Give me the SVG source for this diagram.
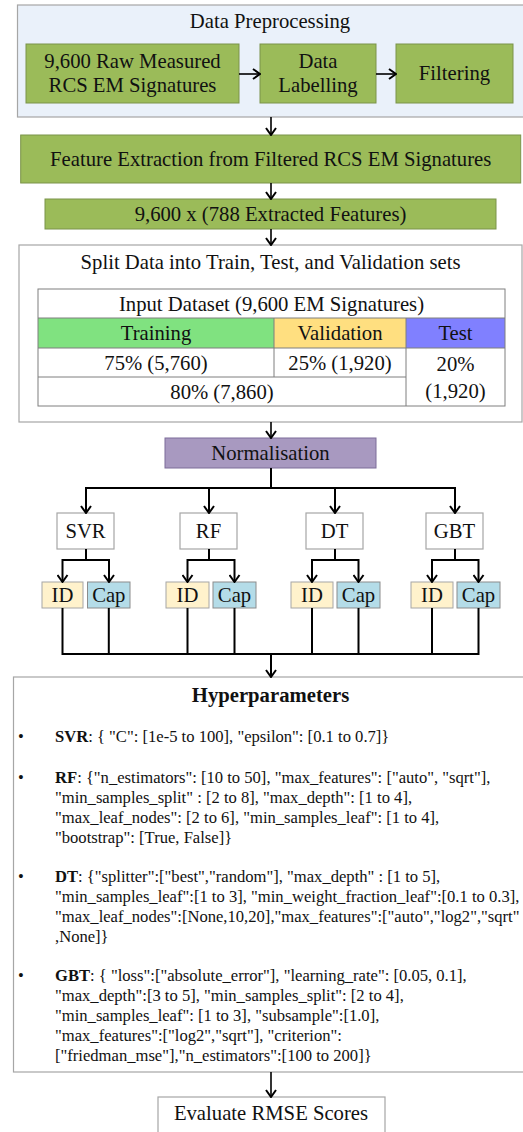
<svg xmlns="http://www.w3.org/2000/svg" width="523" height="1132" viewBox="0 0 523 1132">
<style>
text{font-family:"Liberation Serif","Times New Roman",serif;fill:#111}
.t{font-size:20.7px;text-anchor:middle}
.h{font-size:16.6px}
.b{font-weight:bold}
.g{fill:#9bbb59;stroke:#7a934a;stroke-width:1}
.w{fill:#fff;stroke:#a6a6a6;stroke-width:1.2}
.c{stroke:#7f7f7f;stroke-width:1}
.ln{fill:none;stroke:#000;stroke-width:2}
.ln1{fill:none;stroke:#000;stroke-width:1.6}
</style>
<defs>
<marker id="arr" viewBox="0 0 12 12" refX="11" refY="6" markerWidth="12" markerHeight="12" markerUnits="userSpaceOnUse" orient="auto">
<path d="M4,1 L11,6 L4,11" fill="none" stroke="#000" stroke-width="2"/>
</marker>
</defs>

<g id="preprocessing">
<rect x="17.5" y="5" width="507" height="112" fill="#eaf1fa" stroke="#a6a6a6" stroke-width="1.2"/>
<text class="t" x="270" y="28">Data Preprocessing</text>
</g>
<g id="raw">
<rect class="g" x="26" y="44" width="213" height="59"/>
<text class="t" x="132.5" y="68">9,600 Raw Measured</text>
<text class="t" x="132.5" y="92">RCS EM Signatures</text>
</g>
<g id="labelling">
<rect class="g" x="260" y="44" width="116" height="59"/>
<text class="t" x="318" y="68">Data</text>
<text class="t" x="318" y="92">Labelling</text>
</g>
<g id="filtering">
<rect class="g" x="396" y="44" width="117" height="59"/>
<text class="t" x="454.5" y="80">Filtering</text>
</g>
<g id="feature">
<rect class="g" x="20.7" y="135" width="500" height="48"/>
<text class="t" x="270.7" y="166">Feature Extraction from Filtered RCS EM Signatures</text>
</g>
<g id="features788">
<rect class="g" x="45" y="199" width="451" height="30"/>
<text class="t" x="270.5" y="221">9,600 x (788 Extracted Features)</text>
</g>

<g id="split">
<rect class="w" x="19" y="245" width="503" height="177"/>
<text class="t" x="270.5" y="269">Split Data into Train, Test, and Validation sets</text>
<rect x="38" y="289" width="467" height="117" fill="#fff"/>
<rect x="38" y="318" width="236" height="30" fill="#80e280"/>
<rect x="274" y="318" width="132" height="30" fill="#ffdf80"/>
<rect x="406" y="318" width="99" height="30" fill="#8080ff"/>
<g class="c">
<rect x="38" y="289" width="467" height="117" fill="none"/>
<line x1="38" y1="318" x2="505" y2="318"/>
<line x1="38" y1="348" x2="505" y2="348"/>
<line x1="38" y1="377" x2="406" y2="377"/>
<line x1="274" y1="318" x2="274" y2="377"/>
<line x1="406" y1="318" x2="406" y2="406"/>
</g>
<text class="t" x="271.5" y="310.5">Input Dataset (9,600 EM Signatures)</text>
<text class="t" x="156" y="340">Training</text>
<text class="t" x="340" y="340">Validation</text>
<text class="t" x="455.5" y="340">Test</text>
<text class="t" x="156" y="369.5">75% (5,760)</text>
<text class="t" x="340" y="369.5">25% (1,920)</text>
<text class="t" x="222" y="398.5">80% (7,860)</text>
<text class="t" x="455.5" y="371">20%</text>
<text class="t" x="455.5" y="398">(1,920)</text>
</g>

<g id="normalisation">
<rect x="165" y="438" width="211" height="30" fill="#a899c0" stroke="#7d6d99" stroke-width="1"/>
<text class="t" x="270.5" y="460">Normalisation</text>
</g>

<g id="svr"><rect class="w" x="57" y="513" width="57" height="36"/><text class="t" x="85.5" y="538">SVR</text></g>
<g id="rf"><rect class="w" x="180" y="513" width="57" height="36"/><text class="t" x="208.5" y="538">RF</text></g>
<g id="dt"><rect class="w" x="306" y="513" width="57" height="36"/><text class="t" x="334.5" y="538">DT</text></g>
<g id="gbt"><rect class="w" x="426" y="513" width="57" height="36"/><text class="t" x="454.5" y="538">GBT</text></g>

<g id="svr-id"><rect x="42" y="582" width="41" height="26" fill="#fff2cc" stroke="#a6a6a6"/><text class="t" x="62.5" y="602">ID</text></g>
<g id="svr-cap"><rect x="87.5" y="582" width="42.5" height="26" fill="#b4dce8" stroke="#8c8c8c"/><text class="t" x="108.8" y="602">Cap</text></g>
<g id="rf-id"><rect x="166" y="582" width="43" height="26" fill="#fff2cc" stroke="#a6a6a6"/><text class="t" x="187.5" y="602">ID</text></g>
<g id="rf-cap"><rect x="213" y="582" width="43" height="26" fill="#b4dce8" stroke="#8c8c8c"/><text class="t" x="234.5" y="602">Cap</text></g>
<g id="dt-id"><rect x="291" y="582" width="42" height="26" fill="#fff2cc" stroke="#a6a6a6"/><text class="t" x="312" y="602">ID</text></g>
<g id="dt-cap"><rect x="337" y="582" width="43" height="26" fill="#b4dce8" stroke="#8c8c8c"/><text class="t" x="358.5" y="602">Cap</text></g>
<g id="gbt-id"><rect x="411" y="582" width="42" height="26" fill="#fff2cc" stroke="#a6a6a6"/><text class="t" x="432" y="602">ID</text></g>
<g id="gbt-cap"><rect x="457" y="582" width="43" height="26" fill="#b4dce8" stroke="#8c8c8c"/><text class="t" x="478.5" y="602">Cap</text></g>

<g id="hyperparameters">
<rect class="w" x="13.5" y="677" width="515" height="395"/>
<text class="t b" x="270.5" y="702">Hyperparameters</text>
<g class="h">
<text x="18" y="742">•</text>
<text x="55" y="742"><tspan class="b">SVR</tspan>: { "C": [1e-5 to 100], "epsilon": [0.1 to 0.7]}</text>
<text x="18" y="783">•</text>
<text x="55" y="783"><tspan class="b">RF</tspan>: {"n_estimators": [10 to 50], "max_features": ["auto", "sqrt"],</text>
<text x="55" y="803">"min_samples_split" : [2 to 8], "max_depth": [1 to 4],</text>
<text x="55" y="823">"max_leaf_nodes": [2 to 6], "min_samples_leaf": [1 to 4],</text>
<text x="55" y="843">"bootstrap": [True, False]}</text>
<text x="18" y="882">•</text>
<text x="55" y="882"><tspan class="b">DT</tspan>: {"splitter":["best","random"], "max_depth" : [1 to 5],</text>
<text x="55" y="902">"min_samples_leaf":[1 to 3], "min_weight_fraction_leaf":[0.1 to 0.3],</text>
<text x="55" y="922">"max_leaf_nodes":[None,10,20],"max_features":["auto","log2","sqrt"</text>
<text x="55" y="942">,None]}</text>
<text x="18" y="981">•</text>
<text x="55" y="981"><tspan class="b">GBT</tspan>: { "loss":["absolute_error"], "learning_rate": [0.05, 0.1],</text>
<text x="55" y="1001">"max_depth":[3 to 5], "min_samples_split": [2 to 4],</text>
<text x="55" y="1021">"min_samples_leaf": [1 to 3], "subsample":[1.0],</text>
<text x="55" y="1041">"max_features":["log2","sqrt"], "criterion":</text>
<text x="55" y="1061">["friedman_mse"],"n_estimators":[100 to 200]}</text>
</g>
</g>

<g id="evaluate">
<rect class="w" x="158" y="1097" width="227" height="45"/>
<text class="t" x="271" y="1120">Evaluate RMSE Scores</text>
</g>

<g id="connectors">
<line class="ln1" x1="239" y1="74" x2="260" y2="74" marker-end="url(#arr)"/>
<line class="ln1" x1="376" y1="74" x2="396" y2="74" marker-end="url(#arr)"/>
<line class="ln1" x1="271" y1="117" x2="271" y2="135" marker-end="url(#arr)"/>
<line class="ln1" x1="271" y1="183" x2="271" y2="199" marker-end="url(#arr)"/>
<line class="ln1" x1="271" y1="229" x2="271" y2="245" marker-end="url(#arr)"/>
<line class="ln1" x1="271" y1="422" x2="271" y2="438" marker-end="url(#arr)"/>
<path class="ln" d="M271,468 V488 M86,488 H455"/>
<path class="ln" d="M86,487 V513" marker-end="url(#arr)"/>
<path class="ln" d="M209,487 V513" marker-end="url(#arr)"/>
<path class="ln" d="M335,487 V513" marker-end="url(#arr)"/>
<path class="ln" d="M455,487 V513" marker-end="url(#arr)"/>
<path class="ln" d="M86,549 V560 M62.5,560 H109"/>
<path class="ln" d="M62.5,559 V582" marker-end="url(#arr)"/>
<path class="ln" d="M109,559 V582" marker-end="url(#arr)"/>
<path class="ln" d="M209,549 V560 M187.5,560 H234.5"/>
<path class="ln" d="M187.5,559 V582" marker-end="url(#arr)"/>
<path class="ln" d="M234.5,559 V582" marker-end="url(#arr)"/>
<path class="ln" d="M335,549 V560 M312,560 H358.5"/>
<path class="ln" d="M312,559 V582" marker-end="url(#arr)"/>
<path class="ln" d="M358.5,559 V582" marker-end="url(#arr)"/>
<path class="ln" d="M455,549 V560 M432,560 H478.5"/>
<path class="ln" d="M432,559 V582" marker-end="url(#arr)"/>
<path class="ln" d="M478.5,559 V582" marker-end="url(#arr)"/>
<path class="ln" d="M62.5,608 V654 M108.8,608 V654 M187.5,608 V654 M234.5,608 V654 M312,608 V654 M358.5,608 V654 M432,608 V654 M478.5,608 V654 M61.5,654 H479.5"/>
<path class="ln" d="M271,653 V677" marker-end="url(#arr)"/>
<line class="ln1" x1="271" y1="1072" x2="271" y2="1097" marker-end="url(#arr)"/>
</g>
</svg>
